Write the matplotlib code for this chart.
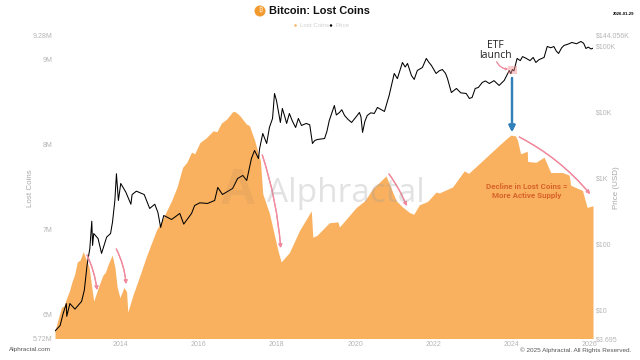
import matplotlib
matplotlib.use("Agg")
import matplotlib.pyplot as plt
from matplotlib.patches import Ellipse, Rectangle

plt.rcParams['font.family'] = ['Liberation Sans', 'DejaVu Sans']

# lost coins, millions
lost_years = [2012.33, 2012.41, 2012.50, 2012.56, 2012.63, 2012.70, 2012.76, 2012.83, 2012.90, 2012.97, 2013.05, 2013.15, 2013.20, 2013.27, 2013.32,
              2013.43, 2013.55, 2013.62, 2013.68, 2013.79, 2013.86, 2013.92, 2013.99, 2014.09, 2014.16, 2014.19, 2014.33, 2014.50, 2014.67, 2014.92,
              2015.10, 2015.31, 2015.45, 2015.59, 2015.70, 2015.82, 2015.90, 2016.03, 2016.20, 2016.37, 2016.47, 2016.58, 2016.72, 2016.88, 2016.95, 2017.05, 2017.22, 2017.30,
              2017.43, 2017.58, 2017.64, 2017.81, 2018.03, 2018.11, 2018.32, 2018.58, 2018.88, 2018.92, 2019.02, 2019.34, 2019.56, 2019.60,
              2020.03, 2020.25, 2020.45, 2020.79, 2021.05, 2021.20, 2021.39, 2021.50, 2021.64, 2021.85, 2022.07, 2022.15, 2022.49, 2022.79, 2022.90, 2023.21,
              2023.68, 2023.85, 2023.98, 2024.10, 2024.15, 2024.23, 2024.40, 2024.41, 2024.62, 2024.83, 2025.00, 2025.30, 2025.47, 2025.51, 2025.81, 2025.93, 2026.08]
lost_coins = [5.81, 5.95, 6.09, 6.10, 6.20, 6.28, 6.38, 6.47, 6.62, 6.64, 6.74, 6.62, 6.56, 6.32, 6.16,
              6.31, 6.46, 6.50, 6.58, 6.70, 6.56, 6.32, 6.20, 6.32, 6.27, 6.03, 6.24, 6.46, 6.69, 6.99,
              7.14, 7.34, 7.50, 7.73, 7.79, 7.91, 7.89, 8.02, 8.08, 8.16, 8.15, 8.25, 8.30, 8.39, 8.38, 8.34, 8.24, 8.22,
              8.05, 7.81, 7.42, 7.19, 6.75, 6.62, 6.73, 6.99, 7.22, 6.91, 6.93, 7.08, 7.09, 7.03,
              7.26, 7.34, 7.48, 7.63, 7.34, 7.27, 7.20, 7.18, 7.29, 7.33, 7.44, 7.43, 7.50, 7.69, 7.66, 7.79,
              7.99, 8.06, 8.11, 8.10, 8.05, 7.89, 7.92, 7.80, 7.79, 7.85, 7.67, 7.67, 7.64, 7.52, 7.46, 7.26, 7.28]

# btc price, usd
price_years = [2012.33, 2012.46, 2012.54, 2012.62, 2012.63, 2012.71, 2012.84, 2013.01, 2013.08, 2013.15, 2013.22, 2013.27, 2013.29, 2013.32, 2013.43, 2013.52, 2013.65, 2013.75, 2013.80, 2013.86, 2013.90, 2013.95,
               2014.01, 2014.14, 2014.27, 2014.30, 2014.41, 2014.61, 2014.75, 2014.88, 2014.96, 2015.03, 2015.11, 2015.31, 2015.52, 2015.62, 2015.82, 2015.90, 2016.03, 2016.23, 2016.41, 2016.49, 2016.61, 2016.87,
               2016.997, 2017.13, 2017.23, 2017.35, 2017.43, 2017.53, 2017.56, 2017.64, 2017.74, 2017.81, 2017.89, 2017.94, 2017.99, 2018.03, 2018.09, 2018.14, 2018.20, 2018.25, 2018.32, 2018.40, 2018.48, 2018.55, 2018.63, 2018.75, 2018.84, 2018.91,
               2018.97, 2019.04, 2019.22, 2019.28, 2019.34, 2019.47, 2019.52, 2019.60, 2019.66, 2019.73, 2019.82, 2019.91, 2020.03, 2020.11, 2020.15, 2020.19, 2020.25, 2020.31, 2020.40, 2020.49, 2020.57, 2020.66, 2020.75, 2020.87, 2021.00,
               2021.08, 2021.21, 2021.28, 2021.34, 2021.44, 2021.51, 2021.59, 2021.72, 2021.82, 2021.88, 2021.95, 2022.07, 2022.15, 2022.23, 2022.31, 2022.36, 2022.46, 2022.52, 2022.59, 2022.70, 2022.84, 2022.92, 2022.99,
               2023.07, 2023.15, 2023.25, 2023.33, 2023.43, 2023.55, 2023.68, 2023.81, 2023.94, 2023.98, 2024.02, 2024.06, 2024.14, 2024.22, 2024.28, 2024.37, 2024.47, 2024.55, 2024.62, 2024.70, 2024.83, 2024.91,
               2025.00, 2025.08, 2025.14, 2025.20, 2025.28, 2025.34, 2025.45, 2025.54, 2025.66, 2025.77, 2025.84, 2025.90, 2025.96, 2026.03, 2026.07]
price_usd = [4.8, 5.8, 8.9, 12.5, 8.0, 12.5, 10.3, 13.5, 20, 48, 85, 221, 95, 144, 121, 72, 127, 144, 215, 456, 1159, 456,
             826, 610, 400, 560, 631, 560, 345, 400, 300, 178, 270, 235, 290, 200, 290, 383, 420, 411, 456, 718, 562, 693,
             982, 1091, 916, 1970, 2610, 1970, 2800, 4720, 3330, 5820, 7980, 19050, 14930, 11000, 6930, 11300, 8600, 6700, 9490, 7200, 5820, 7980, 6240, 6700, 6400, 3330,
             3700, 3830, 3960, 5100, 7430, 12530, 9000, 9820, 10800, 8850, 7700, 6930, 8500, 9820, 8400, 4900, 7200, 8850, 9700, 9490, 11700, 10900, 10180, 17800, 38300,
             32000, 56200, 48000, 54300, 35700, 31100, 42500, 47200, 64700, 57000, 50700, 38300, 42000, 44000, 38500, 32200, 19700, 21000, 22700, 19500, 19050, 16000, 16600,
             22700, 23500, 28000, 29500, 27000, 29800, 25200, 30000, 42500, 38000, 44000, 42000, 64700, 60000, 69000, 65000, 60000, 67000, 56200, 62000, 67000, 98200,
             94000, 98000, 84000, 76900, 94000, 101800, 107000, 113000, 108000, 117000, 110000, 91600, 96000, 90000, 92000]

left_ticks = [5.72, 6, 7, 8, 9, 9.28]
left_labels = ['5.72M', '6M', '7M', '8M', '9M', '9.28M']
right_ticks = [3.695, 10, 100, 1000, 10000, 100000, 144056]
right_labels = ['$3.695', '$10', '$100', '$1K', '$10K', '$100K', '$144.056K']
year_ticks = [2014, 2016, 2018, 2020, 2022, 2024, 2026]

W, H = 640, 360
GREY = '#b5b5b5'
ORANGE = '#f9b160'
PINK = '#f08a9c'


def P(x, y):
    # reference pixel -> figure fraction
    return (x / W, 1 - y / H)


fig = plt.figure(figsize=(6.4, 3.6), dpi=100)
ax = fig.add_axes([55 / W, 1 - 338.5 / H, 538 / W, 303 / H])
ax.fill_between(lost_years, lost_coins, 5.72, color=ORANGE, lw=0)
ax.set_xlim(2012.33, 2026.08)
ax.set_ylim(5.72, 9.28)
ax.set_xticks(year_ticks)
ax.set_xticklabels([str(y) for y in year_ticks])
ax.set_yticks(left_ticks)
ax.set_yticklabels(left_labels)
ax.tick_params(length=0, labelsize=5, labelcolor=GREY, pad=2)
ax.tick_params(axis='x', pad=1.5)

ax2 = ax.twinx()
ax2.plot(price_years, price_usd, color='black', lw=0.75)
ax2.set_yscale('log')
ax2.set_ylim(3.695, 144056)
ax2.set_yticks(right_ticks)
ax2.set_yticklabels(right_labels)
ax2.minorticks_off()
ax2.tick_params(length=0, labelsize=5, labelcolor=GREY, pad=2)

for a in (ax, ax2):
    for s in a.spines.values():
        s.set_visible(False)

# title and legend
fig.add_artist(Ellipse(P(260, 11), 11 / W, 11 / H, transform=fig.transFigure, color='#f39a2e', lw=0))
fig.text(*P(260, 11), '₿', color='#fde3c0', fontsize=5.5, ha='center', va='center',
         family=['Noto Sans', 'Roboto', 'Open Sans', 'Lato', 'Inter', 'DejaVu Sans'], fontweight='bold')
fig.text(*P(269, 11.5), 'Bitcoin: Lost Coins', fontsize=7.9, fontweight='bold', color='#111111', va='center')
fig.add_artist(Ellipse(P(295.5, 25.5), 2.5 / W, 2.5 / H, transform=fig.transFigure, color=ORANGE, lw=0))
fig.text(*P(300, 25.5), 'Lost Coins', fontsize=4.4, color='#cfcfcf', va='center')
fig.add_artist(Ellipse(P(331, 25.5), 2.5 / W, 2.5 / H, transform=fig.transFigure, color='black', lw=0))
fig.text(*P(335, 25.5), 'Price', fontsize=4.4, color='#cfcfcf', va='center')
fig.text(*P(623.5, 14), '2026-01-29', fontsize=3.1, fontweight='bold', color='black', ha='center', va='center')

fig.text(*P(31, 188), 'Lost Coins', fontsize=5.8, color='#a8a8a8', rotation=90, ha='center', va='center')
fig.text(*P(616, 188), 'Price (USD)', fontsize=5.8, color='#a8a8a8', rotation=90, ha='center', va='center')
fig.text(*P(9, 349.5), 'Alphractal.com', fontsize=4.6, color='#555555', va='center')
fig.text(*P(631, 350), '© 2025 Alphractal. All Rights Reserved.', fontsize=4.6, color='#555555', ha='right', va='center')

# watermark
fig.text(*P(346, 193), 'Alphractal', fontsize=24, color='#9a9a9a', alpha=0.28, ha='center', va='center', family='Open Sans')
fig.text(*P(238, 191), 'A', fontsize=36, color='#9a7a5a', alpha=0.12, ha='center', va='center', fontweight='bold')


def arrow(start, end, rad, color=PINK, lw=0.9, size=5):
    fig.add_artist(plt.annotate('', xy=P(*end), xytext=P(*start), xycoords='figure fraction', textcoords='figure fraction',
                                arrowprops=dict(arrowstyle='-|>', color=color, lw=lw, mutation_scale=size, shrinkA=0, shrinkB=0,
                                                connectionstyle=f'arc3,rad={rad}')))


arrow((87, 255), (97, 290), -0.08)
arrow((116.3, 249), (126, 284), -0.1)
arrow((262.3, 155), (280.7, 248), -0.06)
arrow((389, 174), (406.7, 206), -0.06)
arrow((519.3, 137), (590, 194), -0.1)
arrow((496.7, 61.7), (508, 69), 0.3, lw=0.7, size=3)
arrow((512, 78), (512, 132), 0, color='#2f7fb8', lw=1.6, size=9)

fig.add_artist(Rectangle(P(507.5, 74), 9.5 / W, 7.5 / H, transform=fig.transFigure, color='#f28b8b', alpha=0.45, lw=0))
fig.text(*P(495.5, 45), 'ETF', fontsize=7.5, color='#222222', ha='center', va='center', family='Open Sans')
fig.text(*P(495.5, 56), 'launch', fontsize=7.5, color='#222222', ha='center', va='center', family='Open Sans')
fig.text(*P(526.7, 186), 'Decline in Lost Coins =', fontsize=5.8, color='#d8632a', ha='center', va='center', family='Roboto', fontweight='bold')
fig.text(*P(526.7, 196), 'More Active Supply', fontsize=5.8, color='#d8632a', ha='center', va='center', family='Roboto', fontweight='bold')

fig.savefig('out.png', dpi=100)
